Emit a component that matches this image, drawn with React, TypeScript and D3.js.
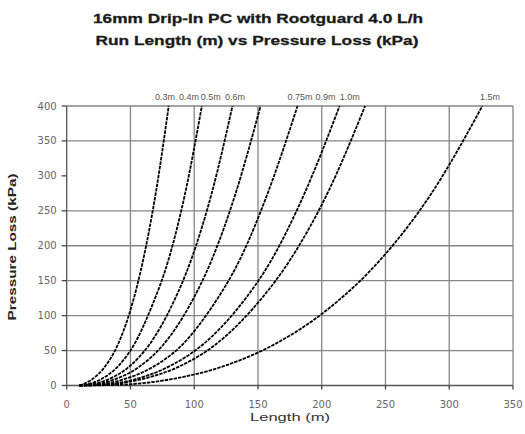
import React from "react";
import * as d3 from "d3";

const spacingLabels = ["0.3m", "0.4m", "0.5m", "0.6m", "0.75m", "0.9m", "1.0m", "1.5m"];

const len03 = [10, 20, 30, 40, 50, 60, 70, 80];
const kpa03 = [0, 9, 27, 58, 108, 180, 277, 400];
const len04 = [10, 27, 40, 53, 66, 80, 93, 106];
const kpa04 = [0, 9, 27, 59, 110, 181, 276, 400];
const len05 = [10, 16, 33, 49, 65, 81, 98, 114, 130];
const kpa05 = [0, 1, 9, 27, 59, 109, 182, 277, 400];
const len06 = [10, 19, 38, 57, 76, 95, 114, 133, 152];
const kpa06 = [0, 1, 9, 27, 59, 110, 181, 278, 400];
const len075 = [10, 23, 45, 68, 91, 113, 136, 158, 181];
const kpa075 = [0, 1, 9, 27, 59, 110, 181, 277, 400];
const len09 = [10, 27, 54, 80, 107, 134, 161, 187, 214];
const kpa09 = [0, 1, 9, 27, 59, 110, 181, 277, 400];
const len10 = [10, 29, 59, 88, 117, 146, 176, 205, 234];
const kpa10 = [0, 1, 9, 27, 59, 110, 182, 277, 400];
const len15 = [10, 41, 82, 122, 163, 204, 245, 285, 326];
const kpa15 = [0, 1, 9, 27, 59, 108, 178, 272, 400];

const seriesLengths = [len03, len04, len05, len06, len075, len09, len10, len15];
const seriesKpa = [kpa03, kpa04, kpa05, kpa06, kpa075, kpa09, kpa10, kpa15];
// x position (in metres) where each curve label is centred
const labelAtLength = [77, 96, 113, 132, 183, 203, 222, 332];

const xTicks = [0, 50, 100, 150, 200, 250, 300, 350];
const yTicks = [0, 50, 100, 150, 200, 250, 300, 350, 400];
const yGridSkip = [300];

const titleLine1 = "16mm Drip-In PC with Rootguard 4.0 L/h";
const titleLine2 = "Run Length (m) vs Pressure Loss (kPa)";
const xTitle = "Length (m)";
const yTitle = "Pressure Loss (kPa)";

export default function App() {
  const W = 525, H = 434;
  const left = 66.7, right = 513, top = 106, bottom = 385.5;
  const x = d3.scaleLinear().domain([0, 350]).range([left, right]);
  const y = d3.scaleLinear().domain([0, 400]).range([bottom, top]);
  const line = d3
    .line<[number, number]>()
    .x((d) => x(d[0]))
    .y((d) => y(d[1]))
    .curve(d3.curveMonotoneX);
  const font = "'Liberation Sans', Arial, sans-serif";
  const tickFont = "'DejaVu Sans', 'Liberation Sans', sans-serif";
  const grid = "#858585";
  const tickCol = "#666";

  return (
    <svg width={W} height={H} style={{ position: "absolute", left: 0, top: 0, background: "#fff" }} fontFamily={font}>
      <rect x={0} y={0} width={W} height={H} fill="#fff" />
      <text x={258} y={23} textAnchor="middle" fontSize={13.5} fontWeight="bold" fill="#1a1a1a" stroke="#1a1a1a" strokeWidth={0.3} textLength={330} lengthAdjust="spacingAndGlyphs">
        {titleLine1}
      </text>
      <text x={257} y={45} textAnchor="middle" fontSize={13.5} fontWeight="bold" fill="#1a1a1a" stroke="#1a1a1a" strokeWidth={0.3} textLength={323} lengthAdjust="spacingAndGlyphs">
        {titleLine2}
      </text>

      {/* vertical grid */}
      {xTicks.map((t) => (
        <line key={"vx" + t} x1={x(t)} x2={x(t)} y1={top} y2={bottom} stroke={t === 0 ? "#555" : grid} strokeWidth={1.3} />
      ))}
      {/* horizontal grid */}
      {yTicks
        .filter((t) => !yGridSkip.includes(t))
        .map((t) => (
          <line key={"hy" + t} x1={left} x2={right} y1={y(t)} y2={y(t)} stroke={t === 0 ? "#555" : grid} strokeWidth={1.3} />
        ))}

      {/* y ticks */}
      {yTicks.map((t) => (
        <g key={"yt" + t}>
          <line x1={left - 5} x2={left} y1={y(t)} y2={y(t)} stroke="#444" strokeWidth={1.3} />
          <text x={left - 10} y={y(t) + 3.5} textAnchor="end" fontSize={10} fill={tickCol} fontFamily={tickFont}>
            {t}
          </text>
        </g>
      ))}
      {/* x ticks */}
      {xTicks.map((t) => (
        <g key={"xt" + t}>
          <line x1={x(t)} x2={x(t)} y1={bottom} y2={bottom + 4} stroke="#444" strokeWidth={1.3} />
          <text x={x(t)} y={bottom + 22} textAnchor="middle" fontSize={10} fill={tickCol} fontFamily={tickFont}>
            {t}
          </text>
        </g>
      ))}

      {/* curves */}
      {seriesLengths.map((ls, i) => {
        const pts = ls.map((l, j) => [l, seriesKpa[i][j]] as [number, number]);
        return (
          <path key={"c" + i} d={line(pts) || ""} fill="none" stroke="#000" strokeWidth={1.8} strokeDasharray="3.5 1" />
        );
      })}

      {/* curve labels */}
      {spacingLabels.map((s, i) => (
        <text key={"l" + i} x={x(labelAtLength[i])} y={top - 6} textAnchor="middle" fontSize={9} fill="#555">
          {s}
        </text>
      ))}

      <text x={290} y={421} textAnchor="middle" fontSize={11.5} fill="#333" textLength={80} lengthAdjust="spacingAndGlyphs">
        {xTitle}
      </text>
      <text transform={`translate(16,247) rotate(-90)`} textAnchor="middle" fontSize={11} fontWeight="bold" fill="#222" textLength={147} lengthAdjust="spacingAndGlyphs">
        {yTitle}
      </text>
    </svg>
  );
}
